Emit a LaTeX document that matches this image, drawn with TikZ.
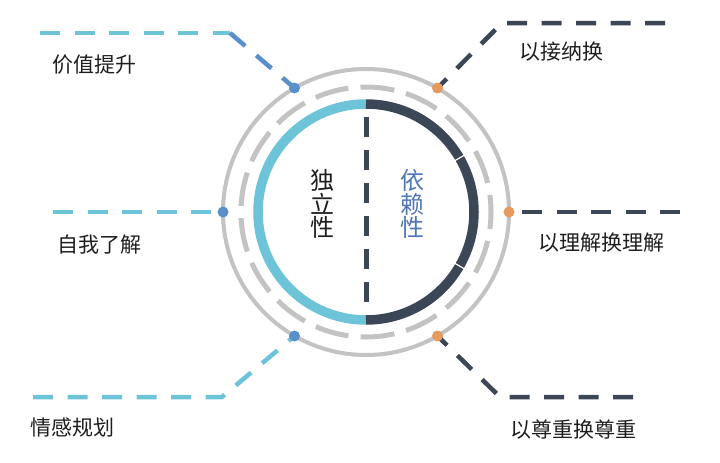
\documentclass[tikz,border=0pt]{standalone}
\usepackage{fontspec}
\newfontfamily\cjk{Noto Sans CJK SC}
\definecolor{cyanc}{HTML}{6DC4D8}
\definecolor{navy}{HTML}{3B4656}
\definecolor{bluec}{HTML}{5A8FCB}
\definecolor{orangec}{HTML}{E69A5E}
\definecolor{grayc}{HTML}{C3C3C3}
\definecolor{textblue}{HTML}{4F77B8}
\definecolor{textdark}{HTML}{1E1E1E}
\tikzset{
  leader/.style={line width=4.5pt, dash pattern=on 20pt off 14.5pt},
  dotnode/.style={circle, inner sep=0pt, minimum size=10pt},
  lbl/.style={font=\cjk\fontsize{21}{21}\selectfont, text=textdark, anchor=west, inner sep=0pt},
  vtext/.style={font=\cjk\fontsize{24}{23.5}\selectfont, align=center, inner sep=0pt}
}
\begin{document}
\begin{tikzpicture}[x=1pt,y=-1pt]
\useasboundingbox[fill=white] (0,0) rectangle (720,463);
\coordinate (c) at (366,212);
% outer gray circle
\draw[grayc, line width=4pt] (c) circle[radius=143];
% dashed gray circle
\draw[grayc, line width=5pt, dash pattern=on 34pt off 12.2pt, dash phase=17pt] (c) circle[radius=125];
% colored ring
\draw[cyanc, line width=9.5pt] (366,104) arc[start angle=-90, end angle=-270, radius=108];
\draw[navy, line width=9.5pt] (366,104) arc[start angle=-90, end angle=90, radius=108];
\draw[white, line width=1.2pt] (454.3,161) -- (464.7,155);
\draw[white, line width=1.2pt] (454.3,263) -- (464.7,269);
% vertical dashed divider
\coordinate (vt) at (366,117);
\coordinate (vb) at (366,310);
\draw[navy, line width=5pt, dash pattern=on 20pt off 13pt] (vt) -- (vb);
% texts in circle
\node[vtext, text=textdark] (indep) at (322,204) {独\\立\\性};
\node[vtext, text=textblue] (dep) at (412,204) {依\\赖\\性};
% dots
\node[dotnode, fill=bluec] (d1) at (294.5,88) {};
\node[dotnode, fill=bluec] (d2) at (223,212) {};
\node[dotnode, fill=bluec] (d3) at (294.5,336) {};
\node[dotnode, fill=orangec] (d4) at (437.5,88) {};
\node[dotnode, fill=orangec] (d5) at (509,212) {};
\node[dotnode, fill=orangec] (d6) at (437.5,336) {};
% leader corners / ends
\coordinate (e1) at (40,33);   \coordinate (k1) at (230,33);
\coordinate (e2) at (53,212);
\coordinate (e3) at (33,397);  \coordinate (k3) at (222,397);
\coordinate (e4) at (665,23);  \coordinate (k4) at (502,23);
\coordinate (e5) at (680,212);
\coordinate (e6) at (633,397); \coordinate (k6) at (500,397);
% leaders
\begin{scope}[on background layer/.style={}]
\draw[leader, cyanc] (e1) -- (k1);
\draw[leader, bluec] (k1) -- (d1.center);
\draw[leader, cyanc] (e2) -- (d2.west);
\draw[leader, cyanc] (e3) -- (k3) -- (d3.center);
\draw[leader, navy] (e4) -- (k4) -- (d4.center);
\draw[leader, navy] (e5) -- (d5.east);
\draw[leader, navy] (e6) -- (k6) -- (d6.center);
\end{scope}
% redraw dots on top
\fill[bluec] (d1) circle[radius=5.5];
\fill[bluec] (d2) circle[radius=5.5];
\fill[bluec] (d3) circle[radius=5.5];
\fill[orangec] (d4) circle[radius=5.5];
\fill[orangec] (d5) circle[radius=5.5];
\fill[orangec] (d6) circle[radius=5.5];
% labels
\node[lbl] (l1) at (52,65) {价值提升};
\node[lbl] (l2) at (57,245) {自我了解};
\node[lbl] (l3) at (30,427) {情感规划};
\node[lbl] (l4) at (519,52) {以接纳换};
\node[lbl] (l5) at (538,243) {以理解换理解};
\node[lbl] (l6) at (510,430) {以尊重换尊重};
\end{tikzpicture}
\end{document}
